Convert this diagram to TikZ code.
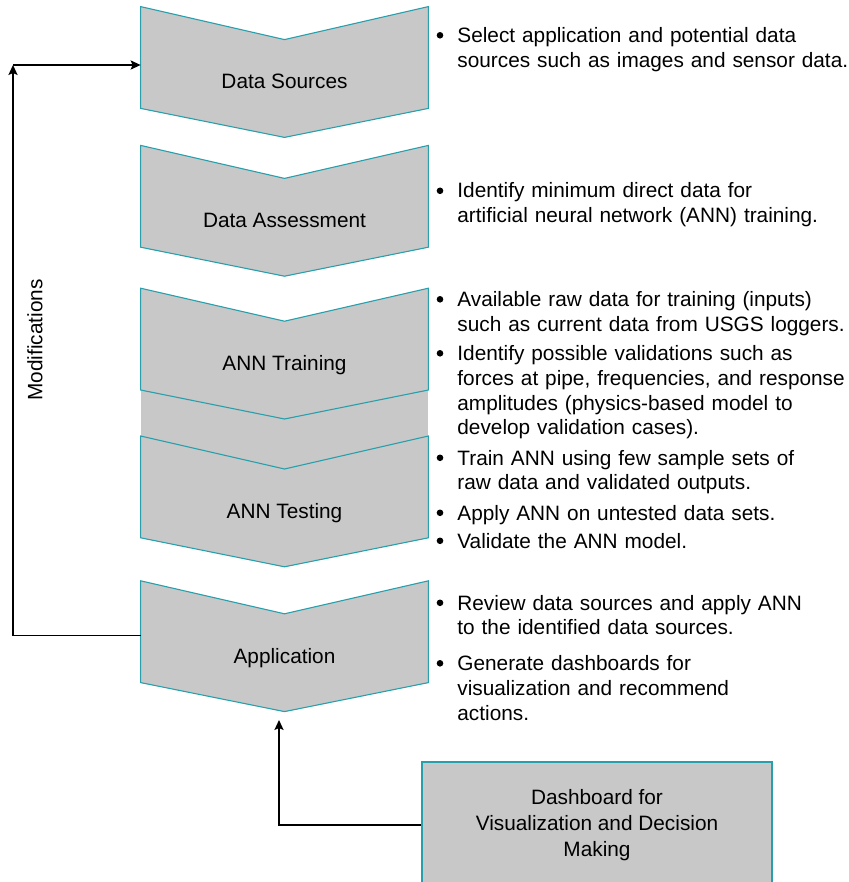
\documentclass[tikz,border=0pt]{standalone}
\usepackage{fontspec}
\setmainfont{Liberation Sans}
\usepackage{xcolor}
\usepackage{tikz}
\usetikzlibrary{arrows.meta, positioning, calc}
\definecolor{chevgray}{RGB}{200,200,200}
\definecolor{chevline}{RGB}{40,160,172}
\newcommand{\dfont}{\fontsize{10.4}{12.4}\selectfont}
\tikzset{
    chev/.style={
        rectangle,
        minimum width=143.5pt,
        minimum height=50.5pt,
        inner sep=0pt
    },
    chevshape/.style={
        fill=chevgray,
        draw=chevline,
        line width=0.55pt
    },
    chevlabel/.style={
        anchor=base,
        inner sep=0pt,
        font=\dfont
    },
    dashbox/.style={
        rectangle,
        fill=chevgray,
        draw=chevline,
        line width=0.55pt,
        minimum width=175pt,
        minimum height=63pt,
        align=center,
        font=\fontsize{10.4}{13}\selectfont
    },
    note/.style={
        anchor=base west,
        inner sep=0pt,
        text width=200pt,
        align=left,
        font=\dfont
    },
    dot/.style={
        circle,
        fill=black,
        inner sep=0pt,
        minimum size=3.3pt
    },
    wire/.style={
        draw=black,
        line width=0.65pt,
        -{Stealth[length=5pt, width=4.6pt, inset=1pt]}
    }
}

\begin{document}
\begin{tikzpicture}[x=0.5pt, y=-0.5pt]
\useasboundingbox (0,0) rectangle (849,882);

% Chevron bodies
\node[chev] (src) at (284.5,57.5) {};
\node[chev, below=18.5pt of src] (assess) {};
\node[chev, below=20.5pt of assess] (train) {};
\node[chev, below=23pt of train] (test) {};
\node[chev, below=21.5pt of test] (app) {};

% grey band joining training and testing
\fill[chevgray] ([yshift=1pt]train.south west) rectangle ($(test.north east)+(0,36)$);
\foreach \n in {src,assess,train,test,app} {
    \filldraw[chevshape] (\n.north west) -- ($(\n.north)+(0,33)$) -- (\n.north east)
        -- (\n.south east) -- ($(\n.south)+(0,29)$) -- (\n.south west) -- cycle;
}

\node[chevlabel] (src-t) at ([yshift=-15.75pt]src.center) {Data Sources};
\node[chevlabel] (assess-t) at ([yshift=-15.75pt]assess.center) {Data Assessment};
\node[chevlabel] (train-t) at ([yshift=-15.75pt]train.center) {ANN Training};
\node[chevlabel] (test-t) at ([yshift=-15.75pt]test.center) {ANN Testing};
\node[chevlabel] (app-t) at ([yshift=-15.75pt]app.center) {Application};

% Notes
\node[note] (n1) at (457,42.5) {Select application and potential data\\sources such as images and sensor data.};
\node[note] (n2) at (457,198) {Identify minimum direct data for\\artificial neural network (ANN) training.};
\node[note] (n3) at (457,306.5) {Available raw data for training (inputs)\\such as current data from USGS loggers.};
\node[note] (n4) at (457,360.5) {Identify possible validations such as\\forces at pipe, frequencies, and response\\amplitudes (physics-based model to\\develop validation cases).};
\node[note] (n5) at (457,465) {Train ANN using few sample sets of\\raw data and validated outputs.};
\node[note] (n6) at (457,520) {Apply ANN on untested data sets.};
\node[note] (n7) at (457,548) {Validate the ANN model.};
\node[note] (n8) at (457,610) {Review data sources and apply ANN\\to the identified data sources.};
\node[note] (n9) at (457,670.5) {Generate dashboards for\\visualization and recommend\\actions.};

\foreach \i in {1,...,9} {
    \node[dot] (b\i) at ([xshift=-8.5pt, yshift=3.6pt]n\i.base west) {};
}

% Dashboard
\node[dashbox] (dash) at (597,825) {Dashboard for\\Visualization and Decision\\Making};
\coordinate (appin) at (279,720);
\draw[wire] (dash.west) -| (appin);

% Feedback loop
\node[rotate=90, font=\dfont, inner sep=0pt] (mod) at (35,340) {Modifications};
\coordinate (corner) at (13,65);
\draw[wire] ([yshift=-1.75pt]app.west) -| (corner);
\draw[wire] (corner) -- (corner -| src.west);

\end{tikzpicture}
\end{document}
